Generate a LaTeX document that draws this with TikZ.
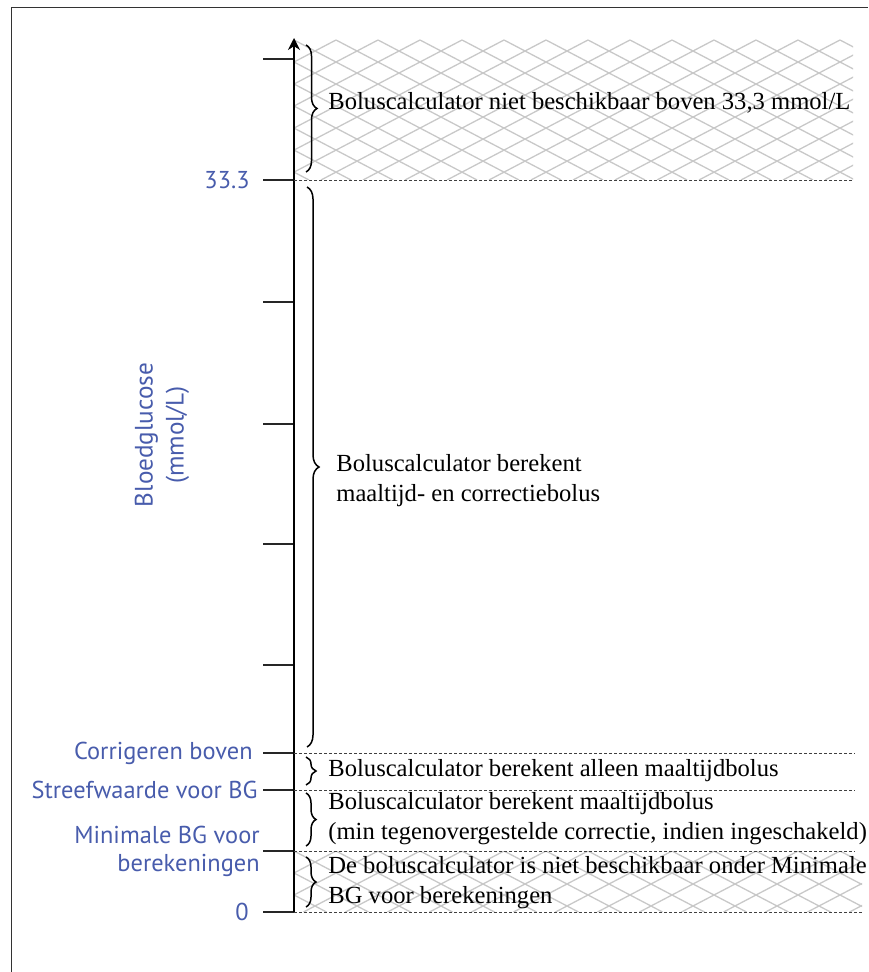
\documentclass[tikz,border=0pt]{standalone}
\usepackage{fontspec}
\setmainfont{Liberation Serif}
\newfontfamily\axisfont{PT Sans}
\usepackage{tikz}
\usetikzlibrary{arrows.meta,positioning,decorations.pathreplacing}
\definecolor{bgblue}{RGB}{72,92,172}
\definecolor{hatchgray}{RGB}{200,200,200}

\begin{document}
\begin{tikzpicture}[x=0.5pt, y=-0.5pt,
  axis/.style={line width=1.1pt, -{Stealth[length=6pt, width=6pt]}},
  tick/.style={line width=0.6pt, color=black!85},
  level/.style={dash pattern=on 1.5pt off 1pt, line width=0.45pt, color=black!75},
  hatch/.style={line width=0.65pt, color=hatchgray},
  brc/.style={decorate, decoration={brace, amplitude=5pt}, line width=0.75pt},
  lbl/.style={font=\axisfont\fontsize{12.2}{14}\selectfont, color=bgblue, align=right, inner sep=0pt},
  zone/.style={font=\fontsize{12.3}{15}\selectfont, align=left, inner sep=0pt},
]
  \useasboundingbox (0,0) rectangle (868,972);
  \draw[black!80, line width=0.5pt] (11,972) -- (11,8) -- (868,8);

  % hatched zones
  \begin{scope}
    \clip (294,40) rectangle (853,180);
    \foreach \x in {0,42,...,1176}
      \draw[hatch] (\x,40) -- ++(267,140) (\x,40) -- ++(-267,140);
  \end{scope}
  \begin{scope}
    \clip (294,851) rectangle (862,912);
    \foreach \x in {168,210,...,1008}
      \draw[hatch] (\x,851) -- ++(116.5,61) (\x,851) -- ++(-116.5,61);
  \end{scope}

  % axis and ticks
  \foreach \n/\y in {t1/59, t2/180, t3/302, t4/424, t5/544, t6/665,
                     corr/753, streef/790, minbg/851, zero/912} {
    \coordinate (\n) at (263,\y);
    \coordinate (\n-a) at (294,\y);
  }
  \coordinate (top) at (294,38);
  \foreach \n in {t1,t2,t3,t4,t5,t6,corr,streef,minbg,zero}
    \draw[tick] (\n) -- (\n-a);
  \draw[axis] (zero-a) -- (top);

  \foreach \n/\e in {t2/853, corr/855, streef/855, minbg/855, zero/862} {
    \coordinate (\n-e) at (\e,0 |- \n);
    \draw[level] (\n-a) -- (\n-e);
  }

  % braces
  \draw[brc, decoration={amplitude=5.5pt}] (306,45) -- (306,172);
  \draw[brc, decoration={amplitude=6pt}] (307,187) -- (307,747);
  \draw[brc] (306,757) -- (306,785);
  \draw[brc] (306,793) -- (306,846);
  \draw[brc] (306,857) -- (306,907);

  \node[zone, anchor=west] (nocalc-hi) at (328,103) {Boluscalculator niet beschikbaar boven 33,3 mmol/L};
  \node[zone, anchor=west] (full)      at (336,481) {Boluscalculator berekent\\maaltijd- en correctiebolus};
  \node[zone, anchor=west] (meal)      at (328,771) {Boluscalculator berekent alleen maaltijdbolus};
  \node[zone, anchor=west] (reverse)   at (328,819) {Boluscalculator berekent maaltijdbolus\\(min tegenovergestelde correctie, indien ingeschakeld)};
  \node[zone, anchor=west] (nocalc-lo) at (328,883) {De boluscalculator is niet beschikbaar onder Minimale\\BG voor berekeningen};

  % axis labels
  \node[lbl, left=6.5pt of t2]     (l-max)    {33.3};
  \node[lbl, left=5pt of corr]     (l-corr)   {Corrigeren boven};
  \node[lbl, left=2.5pt of streef] (l-target) {Streefwaarde voor BG};
  \node[lbl, left=1.5pt of minbg]  (l-min)    {Minimale BG voor\\berekeningen};
  \node[lbl, left=7pt of zero]     (l-zero)   {0};
  \node[lbl, align=center, rotate=90, font=\axisfont\fontsize{12.6}{15.5}\selectfont] (unit) at (162,435) {Bloedglucose\\(mmol/L)};
\end{tikzpicture}
\end{document}
